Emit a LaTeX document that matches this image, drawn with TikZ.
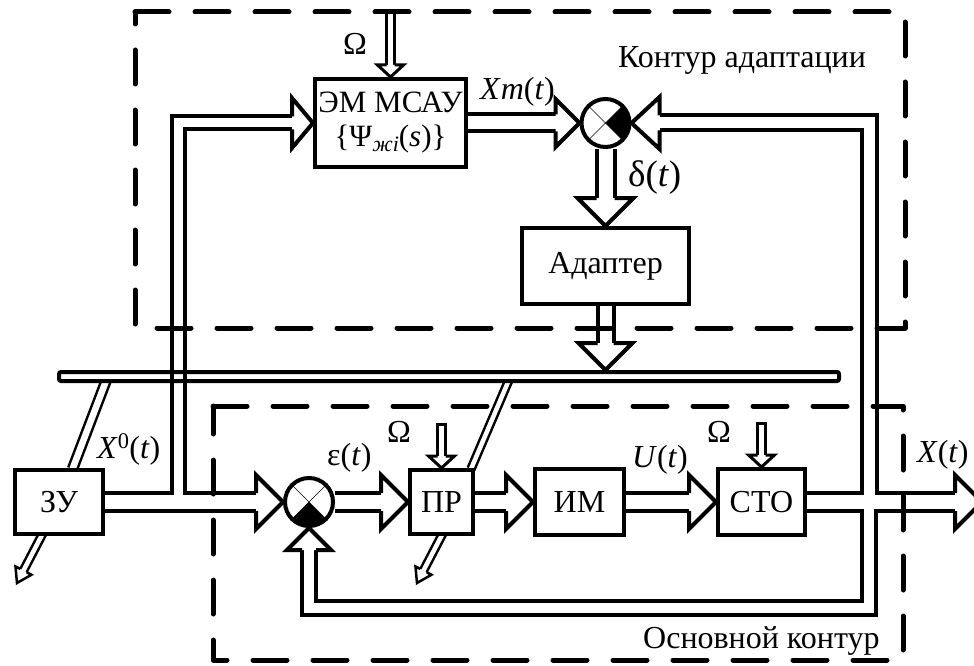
\documentclass[tikz,border=0pt]{standalone}
\usepackage{fontspec}
\setmainfont{Liberation Serif}
\usetikzlibrary{calc}
\pgfdeclarelayer{bg}
\pgfdeclarelayer{fg}
\pgfsetlayers{bg,main,fg}
\newcommand\fs{\fontsize{32}{38}\selectfont}
\newcommand\psgn{+}
\newcommand\pcap{0pt}
\newcommand\pipenet{%
  \draw[pw=18/4, shorten >=27pt] (ZU.east) -- (J2.west);
  \draw[pw=18/4, shorten >=27pt] (J2.east) -- (PR.west);
  \draw[pw=18/4, shorten >=27pt] (PR.east) -- (IM.west);
  \draw[pw=18/4, shorten >=27pt] (IM.east) -- (STO.west);
  \draw[pw=18/4, shorten >=27pt] (STO.east) -- (out);
  \draw[pw=13/4, shorten >=21pt] (tj) |- (EM.west);
  \draw[pw=15/4, shorten >=28pt] (xj) |- (J1.east);
  \draw[pw=14/4, shorten >=22pt] (xj) -- (fb) -| (J2.south);
  \draw[pw=17/4, shorten >=24pt] (EM.east) -- (J1.west);
  \draw[pw=18/4, shorten >=28pt] (J1.south) -- (AD.north);
  \draw[pw=16/4, shorten >=27pt] (AD.south) -- (AD.south |- bar.north);
  \draw[pw=8/3, shorten >=12pt] (o1) -- (EM.north);
  \draw[pw=8/3, shorten >=12pt, shorten <=\pcap] (o2) -- (PR.north);
  \draw[pw=8/3, shorten >=12pt, shorten <=\pcap] (o3) -- (STO.north);
  \draw[pw=9/2.5] (zs) -- (b1);
  \draw[pw=7/2.5] (ps) -- (b2);
  \draw[pw=7/2.5, shorten >=14pt] (zd) -- (t1);
  \draw[pw=7/2.5, shorten >=14pt] (pd) -- (t2);
}
\tikzset{
  pw/.style args={#1/#2}{line width=#1pt\psgn#2pt},
  pics/ah/.style args={#1/#2/#3/#4}{code={
    \fill[white] (-#1,#3) -- (-#1,#2) -- (0,0) -- (-#1,-#2) -- (-#1,-#3) -- cycle;
    \draw[black, line width=#4, line cap=square, line join=miter, miter limit=20]
      (-#1,#3) -- (-#1,#2) -- (0,0) -- (-#1,-#2) -- (-#1,-#3);
  }},
  box/.style={draw, fill=white, line width=4pt, inner sep=0pt, font=\fs},
  sum/.style={circle, draw, fill=white, line width=4pt, minimum size=48pt, inner sep=0pt},
  lbl/.style={anchor=base west, inner sep=0pt, font=\fs},
  dashedbox/.style={line width=5pt, dash pattern=on 34pt off 26pt, line cap=round, line join=round},
}
\begin{document}
\begin{tikzpicture}[x=1pt, y=-1pt, line width=4pt]
\useasboundingbox (0,0) rectangle (974,666);
\clip (0,0) rectangle (974,666);

% blocks
\node[box, minimum width=151pt, minimum height=88pt, align=center,
      font=\fontsize{31}{37}\selectfont] (EM) at (390.5,123)
  {ЭМ МСАУ\\[-3pt]\{Ψ\raisebox{-5pt}{\fontsize{22}{22}\selectfont\itshape жi}(\textit{s})\}};
\node[box, minimum width=167pt, minimum height=76pt] (AD) at (605.5,266) {Адаптер};
\node[box, minimum width=88pt, minimum height=64pt] (ZU) at (59,502) {ЗУ};
\node[box, minimum width=63pt, minimum height=64pt] (PR) at (441.5,502) {ПР};
\node[box, minimum width=89pt, minimum height=66pt] (IM) at (579.5,502) {ИМ};
\node[box, minimum width=87pt, minimum height=66pt] (STO) at (761.5,502) {СТО};
\node[sum] (J1) at (605.5,123) {};
\node[sum] (J2) at (309,502) {};
\node[draw, line width=4pt, minimum width=780pt, minimum height=9pt, inner sep=0pt,
      rounded corners=2pt] (bar) at (449,376.5) {};

% connector end points
\coordinate (out) at (982,502);
\coordinate (tj) at (178.5,502);
\coordinate (xj) at (869,502);
\coordinate (fb) at (869,607.5);
\coordinate (o1) at (390.5,14);
\coordinate (o2) at (441.5,423);
\coordinate (o3) at (761.5,422);
\coordinate (zs) at (72.5,469);
\coordinate (b1) at (106,381);
\coordinate (ps) at (471,469);
\coordinate (b2) at (508.5,381);
\coordinate (zd) at (43,533);
\coordinate (t1) at (17,583);
\coordinate (pd) at (443,533);
\coordinate (t2) at (417,583);

% double-line connectors: outlines first, then white cores
\begin{pgfonlayer}{bg}
  \begin{scope}[draw=black, line cap=butt, line join=miter]
    \renewcommand\psgn{+}\renewcommand\pcap{0pt}\pipenet
  \end{scope}
  \begin{scope}[draw=white, line cap=butt, line join=miter]
    \renewcommand\psgn{-}\renewcommand\pcap{3pt}\pipenet
  \end{scope}
\end{pgfonlayer}

% summing junctions
\begin{scope}
  \clip (J1) circle (24pt);
  \fill (J1.center) -- ++(40,-40) -- ++(0,80) -- cycle;
\end{scope}
\draw (J1.north west) -- (J1.south east) (J1.north east) -- (J1.south west);
\draw (J1) circle (24pt);
\begin{scope}
  \clip (J2) circle (24pt);
  \fill (J2.center) -- ++(-40,40) -- ++(80,0) -- cycle;
\end{scope}
\draw (J2.north west) -- (J2.south east) (J2.north east) -- (J2.south west);
\draw (J2) circle (24pt);

% arrow heads
\pic at (J2.west) {ah=27/27/9/4pt};
\pic at (PR.west) {ah=27/27/9/4pt};
\pic at (IM.west) {ah=27/27/9/4pt};
\pic at (STO.west) {ah=27/27/9/4pt};
\pic at (out) {ah=27/27/9/4pt};
\pic at (EM.west) {ah=21/25/6.5/4pt};
\pic at (J1.west) {ah=24/24/8.5/4pt};
\pic[rotate=180] at (J1.east) {ah=28/26/7.5/4pt};
\pic[rotate=-90] at (AD.north) {ah=28/28/9/4pt};
\pic[rotate=-90] at (AD.south |- bar.north) {ah=27/27/8/4pt};
\pic[rotate=90] at (J2.south) {ah=22/22/7/4pt};
\pic[rotate=-90] at (EM.north) {ah=12/13/4/3pt};
\pic[rotate=-90] at (PR.north) {ah=12/13/4/3pt};
\pic[rotate=-90] at (STO.north) {ah=12/13/4/3pt};
\pic[rotate=-117.5] at (t1) {ah=14/9/3.5/2.5pt};
\pic[rotate=-117.5] at (t2) {ah=14/9/3.5/2.5pt};

% labels
\node[lbl] (lOm1) at (343,55) {Ω};
\node[lbl] (lXm) at (480,100) {\textit{X}\textit{m}(\textit{t})};
\node[lbl] (lKA) at (618,68) {Контур адаптации};
\node[lbl, font=\fontsize{37}{42}\selectfont] (ld) at (628,186) {δ(\textit{t})};
\node[lbl] (lX0) at (97,458) {\textit{X}\textsuperscript{0}(\textit{t})};
\node[lbl] (le) at (327,465) {ε(\textit{t})};
\node[lbl] (lOm2) at (387,442) {Ω};
\node[lbl] (lU) at (632,467) {\textit{U}(\textit{t})};
\node[lbl] (lOm3) at (707,442) {Ω};
\node[lbl] (lX) at (917,462) {\textit{X}(\textit{t})};
\node[lbl] (lOK) at (643,648) {Основной контур};

% dashed contours
\begin{pgfonlayer}{fg}
  \draw[dashedbox] (135,12) -- (905,12) -- (905,328) -- (135,328) -- cycle;
  \draw[dashedbox] (213,406) -- (903,406) -- (903,660) -- (213,660) -- cycle;
\end{pgfonlayer}
\end{tikzpicture}
\end{document}
